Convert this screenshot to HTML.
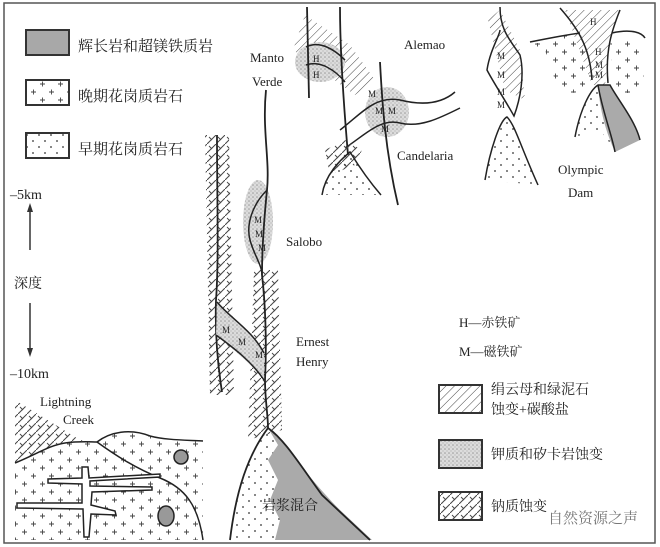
<!DOCTYPE html>
<html><head><meta charset="utf-8"><style>
html,body{margin:0;padding:0;background:#fff}
svg{display:block}
text{font-family:"Liberation Serif","Noto Serif CJK SC",serif;fill:#222}
</style></head><body>
<svg width="660" height="547" viewBox="0 0 660 547" xmlns="http://www.w3.org/2000/svg">
<defs>
<pattern id="hatch" width="6" height="6" patternUnits="userSpaceOnUse" patternTransform="rotate(45)">
<line x1="0" y1="0" x2="0" y2="6" stroke="#444" stroke-width="1"/></pattern>
<pattern id="sodic" width="9" height="9" patternUnits="userSpaceOnUse">
<path d="M0 9L9 0" stroke="#444" stroke-width="1"/><path d="M2 2L5 5" stroke="#444" stroke-width="0.9"/></pattern>
<pattern id="plus" width="18" height="16" patternUnits="userSpaceOnUse">
<path d="M4 4h5M6.5 1.5v5M13 12h5M15.5 9.5v5" stroke="#444" stroke-width="0.9"/></pattern>
<pattern id="dots" width="12" height="12" patternUnits="userSpaceOnUse">
<circle cx="3" cy="3" r="0.9" fill="#333"/><circle cx="9" cy="9" r="0.9" fill="#333"/></pattern>
<pattern id="stip" width="4" height="4" patternUnits="userSpaceOnUse">
<rect width="4" height="4" fill="#dcdcdc"/><circle cx="1" cy="1" r="0.8" fill="#999"/><circle cx="3" cy="3" r="0.6" fill="#aaa"/></pattern>
</defs>
<rect x="4" y="3" width="651" height="540" fill="#fff" stroke="#555" stroke-width="1.5"/>

<!-- legend left -->
<rect x="26" y="30" width="43" height="25" fill="#a8a8a8" stroke="#333" stroke-width="2"/>
<text x="78" y="51" font-size="15">辉长岩和超镁铁质岩</text>
<rect x="26" y="80" width="43" height="25" fill="url(#plus)" stroke="#333" stroke-width="2"/>
<text x="78" y="101" font-size="15">晚期花岗质岩石</text>
<rect x="26" y="133" width="43" height="25" fill="url(#dots)" stroke="#333" stroke-width="2"/>
<text x="78" y="154" font-size="15">早期花岗质岩石</text>
<text x="10" y="199" font-size="14">–5km</text>
<line x1="30" y1="250" x2="30" y2="210" stroke="#333" stroke-width="1.5"/><path d="M27 212L30 203L33 212Z" fill="#333"/>
<text x="14" y="288" font-size="14">深度</text>
<line x1="30" y1="303" x2="30" y2="350" stroke="#333" stroke-width="1.5"/><path d="M27 348L30 357L33 348Z" fill="#333"/>
<text x="10" y="378" font-size="14">–10km</text>

<!-- legend right -->
<text x="459" y="327" font-size="13">H—赤铁矿</text>
<text x="459" y="356" font-size="13">M—磁铁矿</text>
<rect x="439" y="385" width="43" height="28" fill="url(#hatch)" stroke="#333" stroke-width="2"/>
<text x="491" y="394" font-size="14">绢云母和绿泥石</text>
<text x="491" y="414" font-size="14">蚀变+碳酸盐</text>
<rect x="439" y="440" width="43" height="28" fill="url(#stip)" stroke="#333" stroke-width="2"/>
<text x="491" y="459" font-size="14">钾质和矽卡岩蚀变</text>
<rect x="439" y="492" width="43" height="28" fill="url(#sodic)" stroke="#333" stroke-width="2"/>
<text x="491" y="511" font-size="14">钠质蚀变</text>
<text x="548" y="523" font-size="15" style="fill:#777">自然资源之声</text>

<!-- central veins -->
<path d="M205 135L229 135L234 395L210 395Z" fill="url(#sodic)"/>
<path d="M217 135C217 200 219 260 216 300C215 330 217 360 222 392" stroke="#222" stroke-width="1.8" fill="none"/>
<path d="M254 270L278 270L282 430L248 440Z" fill="url(#sodic)"/>
<ellipse cx="258" cy="222" rx="15" ry="42" fill="url(#stip)"/>
<path d="M266 90C262 130 270 160 267 190C264 220 262 250 262 275C265 300 267 340 265 380C265 400 268 415 268 428" stroke="#222" stroke-width="1.8" fill="none"/>
<path d="M267 190C252 205 246 225 250 240C254 255 262 265 262 275" stroke="#222" stroke-width="1.5" fill="none"/>
<text x="254" y="223" font-size="9">M</text><text x="255" y="237" font-size="9">M</text><text x="258" y="251" font-size="9">M</text>
<path d="M217 302C230 318 250 330 264 353L264 380C252 365 232 348 216 335Z" fill="url(#stip)"/>
<path d="M217 302C230 318 252 330 264 353M216 335C234 348 252 362 264 380" stroke="#222" stroke-width="1.5" fill="none"/>
<text x="222" y="333" font-size="9">M</text><text x="238" y="345" font-size="9">M</text><text x="255" y="358" font-size="9">M</text>
<text x="286" y="246" font-size="13">Salobo</text>
<text x="296" y="346" font-size="13">Ernest</text>
<text x="296" y="366" font-size="13">Henry</text>

<!-- bottom center -->
<path d="M230 540C236 490 248 455 268 428L280 440L290 540Z" fill="url(#dots)"/>
<path d="M268 428L285 445C300 465 320 490 340 510L372 540L275 540L280 520L270 500L278 480L268 460L278 445Z" fill="#aaa"/>
<path d="M230 540C236 490 248 455 268 428C285 440 300 465 322 495L370 540" stroke="#222" stroke-width="1.8" fill="none"/>
<text x="262" y="510" font-size="14">岩浆混合</text>

<!-- lightning creek -->
<path d="M15 400L80 440L97 442L60 443L15 463Z" fill="url(#sodic)"/>
<path d="M15 463C35 455 50 445 65 443C80 441 90 442 97 442C110 432 130 428 150 436C165 440 185 440 203 441L203 540L15 540Z" fill="url(#plus)"/>
<path d="M15 463C35 455 50 445 65 443C80 441 90 442 97 442C110 432 130 428 150 436C165 440 185 440 203 441" stroke="#222" stroke-width="1.5" fill="none"/>
<path d="M97 442C115 455 135 468 160 478C185 488 198 505 203 540" stroke="#222" stroke-width="1.5" fill="none"/>
<path d="M82 467L88 467L89 478L160 474L160 477L90 481L90 486L152 487L152 490L92 492L91 505L115 511L116 515L91 514L89 537L84 537L83 509L17 508L17 503L82 503L82 484L48 483L48 479L82 478Z" fill="#fff" stroke="#222" stroke-width="1.5"/>
<ellipse cx="181" cy="457" rx="7" ry="7" fill="#999" stroke="#222" stroke-width="1.5"/>
<ellipse cx="166" cy="516" rx="8" ry="10" fill="#999" stroke="#222" stroke-width="1.5"/>
<text x="40" y="406" font-size="13">Lightning</text>
<text x="63" y="424" font-size="13">Creek</text>

<!-- Manto Verde / Candelaria -->
<path d="M293 50L305 15L350 45L375 80L355 95Z" fill="url(#hatch)"/>
<ellipse cx="320" cy="62" rx="25" ry="20" fill="url(#stip)"/>
<path d="M306 47C320 40 335 50 345 60M306 65C320 60 335 70 345 82" stroke="#222" stroke-width="1.5" fill="none"/>
<text x="313" y="62" font-size="9">H</text><text x="313" y="78" font-size="9">H</text>
<line x1="307" y1="7" x2="309" y2="98" stroke="#222" stroke-width="1.8"/>
<path d="M340 7C340 60 345 120 348 155" stroke="#222" stroke-width="1.8" fill="none"/>
<text x="250" y="62" font-size="13">Manto</text>
<text x="252" y="86" font-size="13">Verde</text>
<text x="404" y="49" font-size="13">Alemao</text>
<ellipse cx="387" cy="112" rx="22" ry="25" fill="url(#stip)"/>
<path d="M340 130C360 115 375 95 400 100C420 105 440 105 455 92M345 148C365 135 380 118 400 123C420 128 440 118 460 108" stroke="#222" stroke-width="1.5" fill="none"/>
<path d="M380 62C382 100 385 150 398 205" stroke="#222" stroke-width="1.8" fill="none"/>
<text x="368" y="97" font-size="9">M</text><text x="375" y="114" font-size="9">M</text><text x="388" y="114" font-size="9">M</text><text x="381" y="132" font-size="9">M</text>
<path d="M325 150L345 140L362 150L355 165L330 175Z" fill="url(#sodic)"/>
<path d="M322 195C325 175 340 160 350 152C358 165 368 180 381 195Z" fill="url(#dots)"/>
<path d="M322 195C325 175 340 160 350 152C358 165 368 180 381 195" stroke="#222" stroke-width="1.5" fill="none"/>
<text x="397" y="160" font-size="13">Candelaria</text>

<!-- Olympic Dam -->
<path d="M488 20L500 10L520 50L525 100L505 90Z" fill="url(#hatch)"/>
<path d="M500 7C500 30 510 40 520 55C525 75 520 100 514 116C505 100 492 80 487 70C490 50 500 35 500 30" stroke="#222" stroke-width="1.5" fill="none"/>
<text x="497" y="59" font-size="9">M</text><text x="497" y="78" font-size="9">M</text><text x="497" y="95" font-size="9">M</text><text x="497" y="108" font-size="9">M</text>
<path d="M485 180C490 150 500 120 507 117C515 125 520 145 538 185Z" fill="url(#dots)"/>
<path d="M485 180C490 150 500 120 507 117C515 125 520 145 538 185" stroke="#222" stroke-width="1.5" fill="none"/>
<path d="M530 45C550 40 565 35 580 32L595 80L590 90L560 95L545 50Z" fill="url(#plus)"/>
<path d="M610 40L640 40L645 90L615 95Z" fill="url(#plus)"/>
<path d="M565 10L620 10L610 40L605 85L592 85Z" fill="url(#hatch)"/>
<path d="M530 42C550 38 565 35 580 33M560 8C575 25 590 45 592 80M620 10C612 30 605 50 608 83M612 33C625 30 640 30 645 38" stroke="#222" stroke-width="1.5" fill="none"/>
<text x="590" y="25" font-size="9">H</text><text x="595" y="55" font-size="9">H</text><text x="595" y="68" font-size="9">M</text><text x="595" y="78" font-size="9">M</text>
<path d="M575 137C580 110 590 90 598 85L610 85C618 100 635 120 640 140L615 150L600 130Z" fill="url(#dots)"/>
<path d="M598 85L610 85C618 100 635 120 640 140L615 152C605 130 600 110 598 85Z" fill="#aaa"/>
<path d="M575 137C580 110 590 90 598 85L610 85C618 100 635 120 640 140M598 85C602 110 612 135 615 152" stroke="#222" stroke-width="1.5" fill="none"/>
<text x="558" y="174" font-size="13">Olympic</text>
<text x="568" y="197" font-size="13">Dam</text>
</svg>
</body></html>
